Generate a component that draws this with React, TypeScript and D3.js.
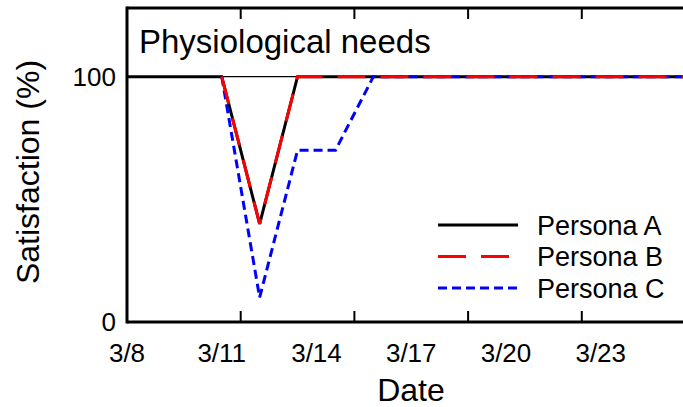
import React from "react";
import * as d3 from "d3";

// Sample positions in days after 3/8 (samples taken at mid-day)
const sampleDays = [-0.5, 0.5, 1.5, 2.5, 3.5, 4.5, 5.5, 6.5, 7.5, 8.5, 9.5, 10.5, 11.5, 12.5, 13.5, 14.5, 15.5];
const personaA = [100, 100, 100, 100, 40, 100, 100, 100, 100, 100, 100, 100, 100, 100, 100, 100, 100];
const personaB = [null, null, null, 100, 40, 100, 100, 100, 100, 100, 100, 100, 100, 100, 100, 100, 100];
const personaC = [null, null, null, 100, 10, 70, 70, 100, 100, 100, 100, 100, 100, 100, 100, 100, 100];

const tickDays = [0, 3, 6, 9, 12, 15];
const tickLabels = ["3/8", "3/11", "3/14", "3/17", "3/20", "3/23"];
const tickLabelDays = [0, 2.5, 5, 7.5, 10, 12.5];
const yTicks = [0, 100];

const seriesNames = ["Persona A", "Persona B", "Persona C"];

const W = 683;
const H = 407;
const left = 127;
const top = 8;
const bottom = 322;
const FONT = "'Liberation Sans', Arial, Helvetica, sans-serif";

export default function App() {
  const x = d3.scaleLinear().domain([0, 15]).range([left, 695.5]);
  const y = d3.scaleLinear().domain([0, 128]).range([bottom, top]);

  const line = d3
    .line<number | null>()
    .defined((v) => v !== null)
    .x((_, i) => x(sampleDays[i]))
    .y((v) => y(v as number));

  const styles = [
    { data: personaA, color: "#000000", dash: undefined as string | undefined },
    { data: personaB, color: "#ff0000", dash: "28,15" },
    { data: personaC, color: "#0000ff", dash: "9,5" },
  ];
  const drawOrder = [0, 2, 1];

  const legendX1 = 438;
  const legendX2 = 518;
  const legendTextX = 537;
  const legendY0 = 225;
  const legendStep = 31.5;

  return (
    <svg
      width={W}
      height={H}
      style={{ position: "absolute", left: 0, top: 0, background: "#fff" }}
      fontFamily={FONT}
    >
      <defs>
        <clipPath id="plotclip">
          <rect x={left} y={top} width={W - left} height={bottom - top} />
        </clipPath>
      </defs>
      <rect x={0} y={0} width={W} height={H} fill="#fff" />

      {/* reference line at 100 */}
      <line x1={left} x2={W} y1={y(100)} y2={y(100)} stroke="#000" strokeWidth={1.2} />

      {/* series */}
      <g clipPath="url(#plotclip)">
        {drawOrder.map((k) => (
          <path
            key={k}
            d={line(styles[k].data) || ""}
            fill="none"
            stroke={styles[k].color}
            strokeWidth={3}
            strokeDasharray={styles[k].dash}
            strokeLinejoin="miter"
          />
        ))}
      </g>

      {/* frame */}
      <line x1={left} x2={W} y1={bottom} y2={bottom} stroke="#000" strokeWidth={3} />
      <line x1={left} x2={W} y1={top} y2={top} stroke="#000" strokeWidth={3} />
      <line x1={left} x2={left} y1={top - 1.5} y2={bottom + 1.5} stroke="#000" strokeWidth={3} />

      {/* x ticks */}
      {tickDays.map((d) => (
        <g key={d}>
          <line x1={x(d)} x2={x(d)} y1={bottom} y2={bottom - 11} stroke="#000" strokeWidth={2} />
          <line x1={x(d)} x2={x(d)} y1={top} y2={top + 11} stroke="#000" strokeWidth={2} />
        </g>
      ))}
      {tickLabels.map((t, i) => (
        <text key={t} x={x(tickLabelDays[i])} y={362} textAnchor="middle" fontSize={26} fill="#000">
          {t}
        </text>
      ))}

      {/* y tick labels */}
      {yTicks.map((v) => (
        <text key={v} x={116} y={y(v)} dy="0.35em" textAnchor="end" fontSize={26} fill="#000">
          {v}
        </text>
      ))}

      {/* axis titles */}
      <text x={411} y={401} textAnchor="middle" fontSize={32} fill="#000">
        Date
      </text>
      <text
        transform={`translate(39, 172) rotate(-90)`}
        textAnchor="middle"
        fontSize={32}
        fill="#000"
      >
        Satisfaction (%)
      </text>

      {/* title */}
      <text x={139} y={53} fontSize={33} fill="#000">
        Physiological needs
      </text>

      {/* legend */}
      {seriesNames.map((name, i) => (
        <g key={name}>
          <line
            x1={legendX1}
            x2={legendX2}
            y1={legendY0 + i * legendStep}
            y2={legendY0 + i * legendStep}
            stroke={styles[i].color}
            strokeWidth={3}
            strokeDasharray={styles[i].dash}
          />
          <text x={legendTextX} y={legendY0 + i * legendStep + 9.5} fontSize={27} fill="#000">
            {name}
          </text>
        </g>
      ))}
    </svg>
  );
}
